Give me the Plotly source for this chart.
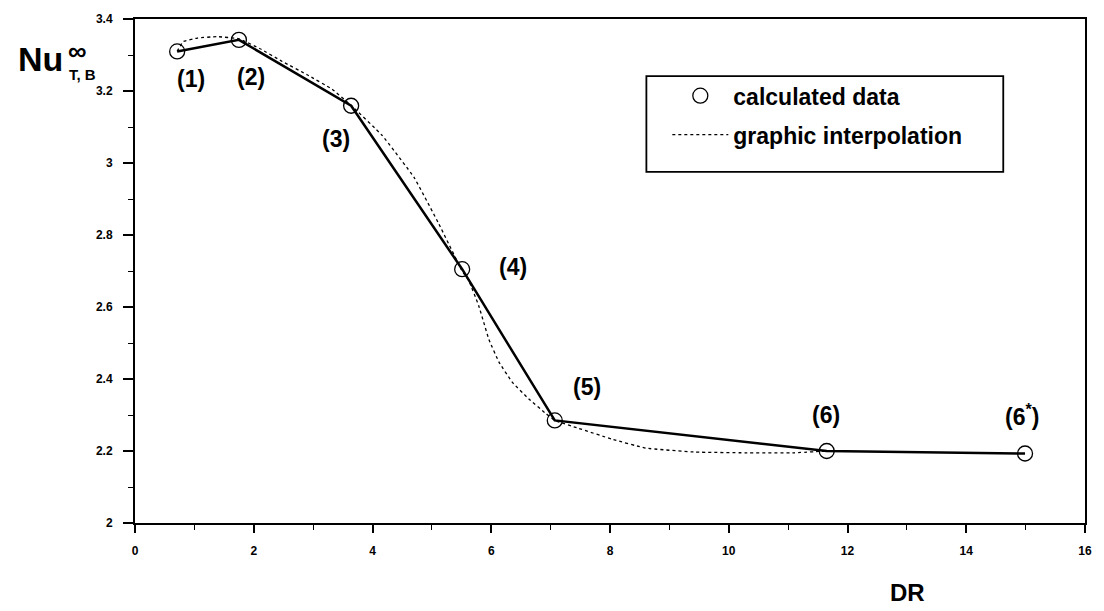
import plotly.graph_objects as go

# calculated data points
dr_calc = [0.71, 1.75, 3.64, 5.51, 7.07, 11.65, 14.99]
nu_calc = [3.31, 3.342, 3.159, 2.705, 2.285, 2.20, 2.193]
point_labels = ["(1)", "(2)", "(3)", "(4)", "(5)", "(6)", "(6<sup>*</sup>)"]
label_x = [0.94, 1.96, 3.39, 6.36, 7.61, 11.64, 14.94]
label_y = [3.232, 3.240, 3.068, 2.712, 2.378, 2.300, 2.300]

# graphic interpolation (dotted curve)
dr_interp = [0.71, 0.81, 1.05, 1.38, 1.75, 2.1, 2.48, 2.9, 3.32, 3.64, 4.16, 4.7, 5.12,
             5.51, 5.62, 5.79, 5.96, 6.13, 6.35, 6.63, 6.92, 7.07, 7.47, 8.03, 8.6,
             9.44, 10.27, 11.1, 11.65]
nu_interp = [3.31, 3.337, 3.347, 3.351, 3.345, 3.318, 3.282, 3.245, 3.205, 3.16, 3.077, 2.96, 2.83,
             2.70, 2.674, 2.603, 2.51, 2.447, 2.392, 2.345, 2.304, 2.285, 2.263, 2.233, 2.208,
             2.197, 2.195, 2.195, 2.20]

FONT = "Liberation Sans"

fig = go.Figure()
fig.add_trace(go.Scatter(
    x=dr_interp, y=nu_interp, mode="lines",
    line=dict(color="black", width=1.3, dash="dot", shape="spline", smoothing=0.3),
    name="graphic interpolation", legendgroup="b", legendrank=2))
fig.add_trace(go.Scatter(
    x=dr_calc, y=nu_calc, mode="lines", line=dict(color="black", width=2.5),
    showlegend=False, hoverinfo="skip"))
fig.add_trace(go.Scatter(
    x=dr_calc, y=nu_calc, mode="markers",
    marker=dict(symbol="circle-open", size=15, color="black", line=dict(width=1.3, color="black")),
    name="calculated data", legendgroup="a", legendrank=1))

annotations = []
for lx, ly, t in zip(label_x, label_y, point_labels):
    annotations.append(dict(x=lx, y=ly, xref="x", yref="y", text=t, showarrow=False,
                            font=dict(family=FONT, size=23, color="black", weight=700),
                            xanchor="center", yanchor="middle"))

L, R, T, B = 135, 16, 12, 88
W, H = 1104, 611
PW, PH = W - L - R, H - T - B


def px(xp):
    return (xp - L) / PW


def py(yp):
    return (H - B - yp) / PH


annotations += [
    dict(x=px(40), y=py(53), xref="paper", yref="paper", text="Nu", showarrow=False,
         font=dict(family=FONT, size=34, color="black", weight=700), xanchor="center", yanchor="middle"),
    dict(x=px(77), y=py(44), xref="paper", yref="paper", text="∞", showarrow=False,
         font=dict(family=FONT, size=26, color="black", weight=700), xanchor="center", yanchor="middle"),
    dict(x=px(82), y=py(68), xref="paper", yref="paper", text="T, B", showarrow=False,
         font=dict(family=FONT, size=15, color="black", weight=700), xanchor="center", yanchor="middle"),
    dict(x=px(910), y=py(593), xref="paper", yref="paper", text="DR", showarrow=False,
         font=dict(family=FONT, size=24, color="black", weight=700), xanchor="center", yanchor="middle"),
]

fig.update_layout(
    width=W, height=H,
    margin=dict(l=L, r=R, t=T, b=B),
    paper_bgcolor="white", plot_bgcolor="white",
    font=dict(family=FONT, color="black"),
    showlegend=True,
    legend=dict(x=px(669), y=py(68), xanchor="left", yanchor="top",
                bgcolor="rgba(0,0,0,0)", borderwidth=0,
                font=dict(family=FONT, size=23, color="black", weight=700),
                tracegroupgap=6, itemwidth=56, traceorder="grouped"),
    annotations=annotations,
    shapes=[dict(type="rect", xref="paper", yref="paper", x0=px(648), x1=px(1006), y0=py(167), y1=py(70),
                 line=dict(color="black", width=1.8), fillcolor="rgba(0,0,0,0)")],
)

fig.update_xaxes(range=[0, 16], tickvals=[0, 2, 4, 6, 8, 10, 12, 14, 16],
                 ticks="outside", ticklen=8, tickwidth=1.5, tickcolor="black",
                 minor=dict(dtick=1, ticks="outside", ticklen=5, tickwidth=1.2, tickcolor="black"),
                 showline=True, linewidth=2, linecolor="black", mirror=True,
                 showgrid=False, zeroline=False, ticklabelstandoff=8,
                 tickfont=dict(family=FONT, size=12, color="black", weight=700))
fig.update_yaxes(range=[2, 3.4], tickvals=[2, 2.2, 2.4, 2.6, 2.8, 3, 3.2, 3.4],
                 ticktext=["2", "2.2", "2.4", "2.6", "2.8", "3", "3.2", "3.4"],
                 ticks="outside", ticklen=10, tickwidth=1.5, tickcolor="black",
                 minor=dict(dtick=0.1, ticks="outside", ticklen=5, tickwidth=1.2, tickcolor="black"),
                 showline=True, linewidth=2, linecolor="black", mirror=True,
                 showgrid=False, zeroline=False, ticklabelstandoff=8,
                 tickfont=dict(family=FONT, size=12, color="black", weight=700))

fig.write_html("out.html")
